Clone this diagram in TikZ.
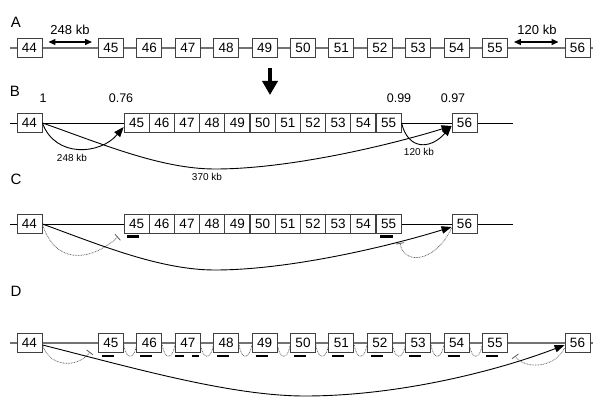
\documentclass[tikz,border=0pt]{standalone}
\usepackage{fontspec}
\setmainfont{Liberation Sans}
\usetikzlibrary{arrows.meta}
\begin{document}
\begin{tikzpicture}[x=1pt,y=-1pt,
  exon/.style={draw=black!75, line width=0.9pt, fill=white, minimum width=25pt, minimum height=19.5pt, inner sep=0pt, font=\fontsize{13.5}{13.5}\selectfont},
  grayline/.style={draw=black!55, line width=1.2pt},
  blackline/.style={draw=black, line width=0.8pt},
  kblbl/.style={font=\fontsize{13}{13}\selectfont},
  numlbl/.style={font=\fontsize{12.5}{12.5}\selectfont},
  smalllbl/.style={font=\fontsize{10}{10}\selectfont},
  panel/.style={font=\fontsize{15}{15}\selectfont},
  splice/.style={draw=black, line width=0.9pt, -{Triangle[length=10pt,width=7.5pt]}},
  dbl/.style={draw=black, line width=1.2pt, {Triangle[length=7pt,width=6pt]}-{Triangle[length=7pt,width=6pt]}},
  dotu/.style={draw=black!65, line width=0.7pt, dash pattern=on 0.8pt off 0.8pt},
  block/.style={draw=black!65, line width=0.7pt, dash pattern=on 0.8pt off 0.8pt, -{Bar[width=8pt,line width=0.8pt]}},
  ebar/.style={draw=black, line width=2.5pt}
]
\useasboundingbox (0,0) rectangle (600,409);

% ---------- panel labels
\node[panel] (pA) at (16,22) {A};
\node[panel] (pB) at (15,91) {B};
\node[panel] (pC) at (16,179) {C};
\node[panel] (pD) at (16,291) {D};

% ---------- Row A
\coordinate (aL) at (10,48);
\coordinate (aR) at (593,48);
\draw[grayline] (aL) -- (aR);
\node[exon] (a44) at (29.5,48) {44};
\foreach \n in {45,...,55} {
  \pgfmathsetmacro\xa{111+38.4*(\n-45)}
  \node[exon] (a\n) at (\xa,48) {\n};
}
\node[exon] (a56) at (577.5,48) {56};
\draw[dbl] ([xshift=6pt,yshift=6pt]a44.east) -- ([xshift=-6pt,yshift=6pt]a45.west);
\draw[dbl] ([xshift=6pt,yshift=6pt]a55.east) -- ([xshift=-6pt,yshift=6pt]a56.west);
\node[kblbl] (k248) at (70,30) {248 kb};
\node[kblbl] (k120) at (537,30) {120 kb};

% ---------- big down arrow
\coordinate (dt) at (270,68);
\coordinate (db) at (270,95);
\draw[line width=3.5pt, -{Triangle[length=14pt,width=15pt]}] (dt) -- (db);

% ---------- Row B
\coordinate (bL) at (10,123);
\coordinate (bR) at (513,123);
\draw[blackline] (bL) -- (bR);
\node[exon] (b44) at (29.5,123) {44};
\foreach \n in {45,...,55} {
  \pgfmathsetmacro\xb{136.6+25.2*(\n-45)}
  \node[exon] (b\n) at (\xb,123) {\n};
}
\node[exon] (b56) at (464.5,123) {56};
\node[numlbl] (s1) at (43,98) {1};
\node[numlbl] (s2) at (121,98) {0.76};
\node[numlbl] (s3) at (399,98) {0.99};
\node[numlbl] (s4) at (453,98) {0.97};
\draw[splice] (b44.east) .. controls (55,158) and (100,155) .. ([yshift=-4pt]b45.west);
\draw[splice] (b44.east) .. controls (100,143) and (160,169) .. (215,169) .. controls (290,169) and (390,145) .. ([yshift=-3pt]b56.west);
\draw[splice] (b55.east) .. controls (408,150) and (430,150) .. ([yshift=-3pt]b56.west);
\node[smalllbl] (l248) at (72,158) {248 kb};
\node[smalllbl] (l370) at (207,177) {370 kb};
\node[smalllbl] (l120) at (419,152) {120 kb};

% ---------- Row C
\coordinate (cL) at (10,224);
\coordinate (cR) at (513,224);
\draw[blackline] (cL) -- (cR);
\node[exon] (c44) at (29.5,224) {44};
\foreach \n in {45,...,55} {
  \pgfmathsetmacro\xc{136.6+25.2*(\n-45)}
  \node[exon] (c\n) at (\xc,224) {\n};
}
\node[exon] (c56) at (464.5,224) {56};
\draw[ebar] ([xshift=-9.5pt,yshift=-12.5pt]c45.center) -- ++(11.5,0);
\draw[ebar] ([xshift=-8.5pt,yshift=-12.5pt]c55.center) -- ++(12.5,0);
\draw[block] (c44.east) .. controls (55,265) and (90,262) .. (118,237);
\draw[splice] (c44.east) .. controls (100,245) and (160,270) .. (215,270) .. controls (290,270) and (390,246) .. ([yshift=-3pt]c56.west);
\draw[block] ([yshift=-4pt]c56.west) .. controls (436,262) and (404,266) .. (400,243);

% ---------- Row D
\coordinate (dL) at (10,343);
\coordinate (dR) at (593,343);
\draw[grayline] (dL) -- (dR);
\node[exon] (d44) at (29.5,343) {44};
\foreach \n in {45,...,55} {
  \pgfmathsetmacro\xd{111+38.4*(\n-45)}
  \node[exon] (d\n) at (\xd,343) {\n};
}
\node[exon] (d56) at (577.5,343) {56};
\foreach \n in {45,46,48,49,50,51,52,53,54,55} {
  \draw[ebar] ([xshift=-9pt,yshift=-13pt]d\n.center) -- ++(12,0);
}
\draw[ebar] ([xshift=-12.5pt,yshift=-13pt]d47.center) -- ++(9,0);
\draw[ebar] ([xshift=4.5pt,yshift=-13pt]d47.center) -- ++(7,0);
\foreach \n [evaluate=\n as \m using int(\n+1)] in {45,...,54} {
  \draw[dotu] ([yshift=-2pt]d\n.east) .. controls ([xshift=2pt,yshift=-17pt]d\n.east) and ([xshift=-2pt,yshift=-17pt]d\m.west) .. ([yshift=-2pt]d\m.west);
}
\draw[block] ([yshift=-2pt]d44.east) .. controls (50,368) and (78,368) .. (90,352);
\draw[splice] ([yshift=-2pt]d44.east) .. controls (130,367) and (230,396) .. (305,396) .. controls (400,396) and (500,370) .. ([yshift=-2pt]d56.west);
\draw[block] ([yshift=-5pt]d56.west) .. controls (555,368) and (525,370) .. (515,356);

\end{tikzpicture}
\end{document}
